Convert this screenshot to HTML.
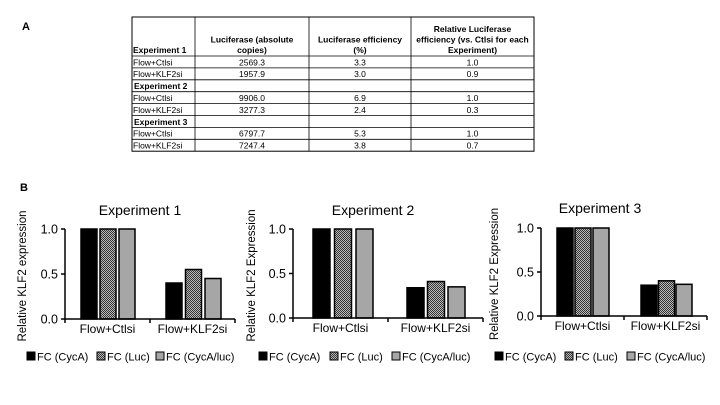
<!DOCTYPE html>
<html><head><meta charset="utf-8">
<style>
html,body{margin:0;padding:0;background:#fff;}
svg{display:block;font-family:"Liberation Sans",sans-serif;}
</style></head>
<body>
<svg id="fig" width="720" height="405" viewBox="0 0 720 405" xmlns="http://www.w3.org/2000/svg">
<defs>
<pattern id="chk" width="2" height="2" patternUnits="userSpaceOnUse">
<rect width="2" height="2" fill="#bbb"/><rect width="1" height="1" fill="#333"/><rect x="1" y="1" width="1" height="1" fill="#333"/>
</pattern>
</defs>
<text x="22" y="30" font-size="11" font-weight="bold">A</text>
<text x="20" y="191" font-size="11" font-weight="bold">B</text>
<g id="table"></g>
<g id="charts"></g>
</svg>
<script>
const NS="http://www.w3.org/2000/svg";
function mk(tag,attrs,parent,txt){const el=document.createElementNS(NS,tag);for(const k in attrs)el.setAttribute(k,attrs[k]);if(txt!==undefined)el.textContent=txt;parent.appendChild(el);return el;}

// ---- Table data ----
const tableHeaders=["Luciferase (absolute copies)","Luciferase efficiency (%)","Relative Luciferase efficiency (vs. Ctlsi for each Experiment)"];
const tableRows=[
["Flow+Ctlsi","2569.3","3.3","1.0"],["Flow+KLF2si","1957.9","3.0","0.9"],
["Experiment 2","","",""],["Flow+Ctlsi","9906.0","6.9","1.0"],["Flow+KLF2si","3277.3","2.4","0.3"],
["Experiment 3","","",""],["Flow+Ctlsi","6797.7","5.3","1.0"],["Flow+KLF2si","7247.4","3.8","0.7"]];
const headerLines=[["Luciferase (absolute","copies)"],["Luciferase efficiency","(%)"],["Relative Luciferase","efficiency (vs. Ctlsi for each","Experiment)"]];

const TBL=document.getElementById('table');
const colX=[132,195,309,411,534], tableTop=17, hb=56, rh=11.9;
const nR=tableRows.length, tableBottom=hb+rh*nR;
mk('rect',{x:colX[0],y:tableTop,width:colX[4]-colX[0],height:tableBottom-tableTop,fill:'none',stroke:'#000','stroke-width':1},TBL);
for(let i=1;i<4;i++)mk('line',{x1:colX[i],y1:tableTop,x2:colX[i],y2:tableBottom,stroke:'#000','stroke-width':0.8},TBL);
for(let r=0;r<nR;r++){mk('line',{x1:colX[0],y1:hb+rh*r,x2:colX[4],y2:hb+rh*r,stroke:'#000','stroke-width':0.8},TBL);}
const hdr1=mk('text',{x:colX[0]+1,y:hb-3,'font-size':8.5,'font-weight':'bold'},TBL,"Experiment 1");


headerLines.forEach((ls,c)=>{const cx=(colX[c+1]+colX[c+2])/2;const n=ls.length;
 ls.forEach((l,i)=>{const t=mk('text',{x:cx,y:hb-3-(n-1-i)*10.5,'font-size':8.5,'font-weight':'bold','text-anchor':'middle'},TBL,l);
 
 });});
tableRows.forEach((row,r)=>{const y=hb+rh*r+9.3;
 row.forEach((v,c)=>{if(!v)return;
  const bold=v.startsWith("Experiment");
  const t=mk('text',{x:c===0?colX[0]+(bold?2:1):(colX[c]+colX[c+1])/2,y:y,'font-size':8.5,'font-weight':bold?'bold':'normal','text-anchor':c===0?'start':'middle'},TBL,v);
  
  });});

// ---- Chart data ----
const categories=["Flow+Ctlsi","Flow+KLF2si"];
const seriesNames=["FC (CycA)","FC (Luc)","FC (CycA/luc)"];
const exp1CycA=[1.0,0.40], exp1Luc=[1.0,0.55], exp1Ratio=[1.0,0.45];
const exp2CycA=[1.0,0.34], exp2Luc=[1.0,0.41], exp2Ratio=[1.0,0.35];
const exp3CycA=[1.0,0.35], exp3Luc=[1.0,0.40], exp3Ratio=[1.0,0.36];
const yTicks=[0.0,0.5,1.0];
const yTickLabels=["0.0","0.5","1.0"];
const chartTitles=["Experiment 1","Experiment 2","Experiment 3"];
const yTitles=["Relative KLF2 expression","Relative KLF2 Expression","Relative KLF2 Expression"];

const layouts=[
 {x0:65,x1:235,y0:319,y1:229,g:[81,166],step:[19,19.5],bw:16,tx:140,ty:215,yt:22,leg:[27,97,156]},
 {x0:293,x1:483,y0:318,y1:229,g:[313,407],step:[21.5,20.5],bw:17,tx:373,ty:215,yt:251,leg:[259,330,392]},
 {x0:541,x1:707,y0:316,y1:228,g:[557,641],step:[18,17.5],bw:16,tx:600,ty:213,yt:494,leg:[495,565,627]}];
const allSeries=[[exp1CycA,exp1Luc,exp1Ratio],[exp2CycA,exp2Luc,exp2Ratio],[exp3CycA,exp3Luc,exp3Ratio]];
const fills=["#000","url(#chk)","#a6a6a6"];
const CH=document.getElementById('charts');

layouts.forEach((L,ci)=>{
 const g=mk('g',{},CH);
 
 
 const yS=v=>L.y0+(L.y1-L.y0)*v/1.0;
 let t=mk('text',{x:L.tx,y:L.ty,'font-size':14,'text-anchor':'middle'},g,chartTitles[ci]);
 
 
 t=mk('text',{x:0,y:0,'font-size':11.5,'text-anchor':'middle',transform:`translate(${L.yt+4},${(L.y0+L.y1)/2+2}) rotate(-90)`},g,yTitles[ci]);
 
 
 yTicks.forEach((v,i)=>{const y=yS(v);
  mk('line',{x1:L.x0-4,y1:y,x2:L.x0,y2:y,stroke:'#000','stroke-width':1.5},g);
  const tl=mk('text',{x:L.x0-7,y:y+4.5,'font-size':12.5,'text-anchor':'end'},g,yTickLabels[i]);
  
  });
 const series=allSeries[ci];
 series.forEach((vals,si)=>{vals.forEach((v,k)=>{
  const x=L.g[k]+si*L.step[k], y=yS(v);
  const b=mk('rect',{x:x,y:y,width:L.bw,height:L.y0-y,fill:fills[si],stroke:'#000','stroke-width':1.5},g);
  
  
 });});
 mk('line',{x1:L.x0,y1:L.y1,x2:L.x0,y2:L.y0,stroke:'#000','stroke-width':1.5},g);
 mk('line',{x1:L.x0,y1:L.y0,x2:L.x1,y2:L.y0,stroke:'#000','stroke-width':1.5},g);
 const mid=(L.x0+L.x1)/2;
 [L.x0,mid,L.x1].forEach(x=>mk('line',{x1:x,y1:L.y0,x2:x,y2:L.y0+4,stroke:'#000','stroke-width':1.5},g));
 categories.forEach((c,k)=>{const cx=k===0?(L.x0+mid)/2:(mid+L.x1)/2;
  const tl=mk('text',{x:cx,y:L.y0+14,'font-size':12,'text-anchor':'middle'},g,c);
  
  });
 const ly=357;
 seriesNames.forEach((n,si)=>{
  const lx=L.leg[si];
  const sw=mk('rect',{x:lx,y:ly-5,width:8,height:8,fill:fills[si],stroke:'#000','stroke-width':1},g);
  
  
  const lt=mk('text',{x:lx+10,y:ly+3.5,'font-size':11},g,n);
  
  
 });
});
</script>
</body></html>
